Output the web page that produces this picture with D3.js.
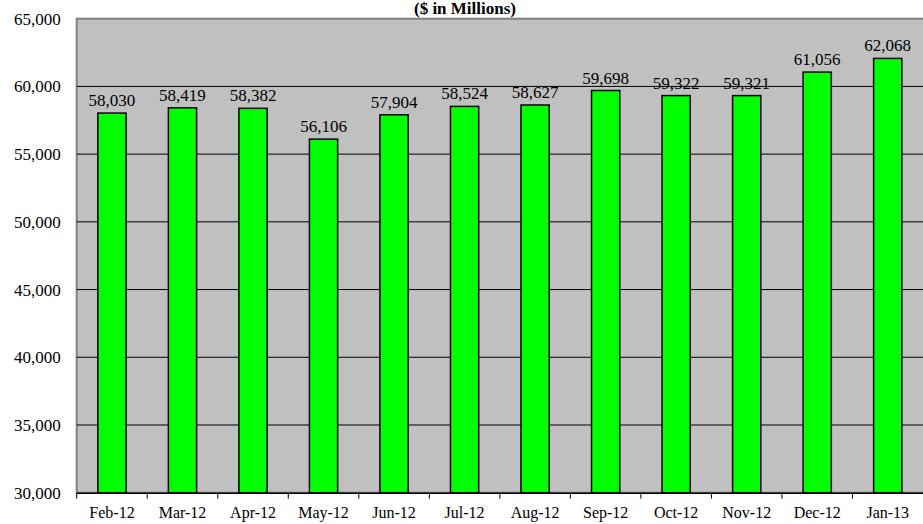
<!DOCTYPE html>
<html><head><meta charset="utf-8">
<script src="https://cdn.jsdelivr.net/npm/d3@7"></script>
</head><body style="margin:0">
<svg id="c" width="923" height="524"></svg>
<script>
const categories = ["Feb-12","Mar-12","Apr-12","May-12","Jun-12","Jul-12","Aug-12","Sep-12","Oct-12","Nov-12","Dec-12","Jan-13"];
const values = [58030,58419,58382,56106,57904,58524,58627,59698,59322,59321,61056,62068];
const yTicks = [30000,35000,40000,45000,50000,55000,60000,65000];
const title = "($ in Millions)";

const F17 = "17px 'Liberation Serif', serif";
const F16 = "16px 'Liberation Serif', serif";
const svg = d3.select("#c");
const m = {left:76.7, right:923, top:18.7, bottom:492.7};
const x = d3.scaleBand().domain(categories).range([m.left, m.right]).paddingInner(0.6).paddingOuter(0.3);
const xs = d3.scaleBand().domain(categories).range([m.left, m.right]);
const y = d3.scaleLinear().domain([30000,65000]).range([m.bottom, m.top]);

svg.append("rect").attr("x",m.left).attr("y",m.top).attr("width",m.right-m.left+2).attr("height",m.bottom-m.top)
  .attr("fill","#c0c0c0").attr("stroke","#808080").attr("stroke-width",2);

// gridlines
svg.append("g").selectAll("line").data(yTicks.filter(t=>t>30000 && t<65000)).join("line")
  .attr("x1",m.left).attr("x2",m.right).attr("y1",d=>y(d)).attr("y2",d=>y(d))
  .attr("stroke","#000").attr("stroke-width",1);

// bars
svg.append("g").selectAll("rect").data(values).join("rect")
  .attr("x",(d,i)=>x(categories[i])).attr("width",x.bandwidth())
  .attr("y",d=>y(d)).attr("height",d=>m.bottom-y(d))
  .attr("fill","#00ff00").attr("stroke","#000").attr("stroke-width",1.5);

// value labels
svg.append("g").selectAll("text").data(values).join("text")
  .attr("x",(d,i)=>x(categories[i])+x.bandwidth()/2).attr("y",d=>y(d)-7)
  .attr("text-anchor","middle").style("font",F17).attr("fill","#000")
  .text(d=>d3.format(",")(d));

// y axis
const ya = svg.append("g").attr("transform",`translate(${m.left},0)`)
  .call(d3.axisLeft(y).tickValues(yTicks).tickFormat(d3.format(",")).tickSize(0).tickPadding(16));
ya.attr("font-family",null).attr("font-size",null);
ya.select(".domain").remove();
ya.selectAll("text").style("font",F17).attr("fill","#000");

// x axis
const xa = svg.append("g").attr("transform",`translate(0,${m.bottom})`)
  .call(d3.axisBottom(xs).tickSize(0).tickPadding(14));
xa.attr("font-family",null).attr("font-size",null);
xa.select(".domain").attr("stroke","#000").attr("stroke-width",1.5);
xa.selectAll("text").style("font",F16).attr("fill","#000");
// tick marks at category boundaries
svg.append("g").selectAll("line").data(categories).join("line")
  .attr("x1",d=>xs(d)).attr("x2",d=>xs(d)).attr("y1",m.bottom).attr("y2",m.bottom+6)
  .attr("stroke","#000").attr("stroke-width",1);

svg.append("text").attr("x",465).attr("y",14).attr("text-anchor","middle")
  .style("font","bold 17px 'Liberation Serif', serif").text(title);
</script>
</body></html>
